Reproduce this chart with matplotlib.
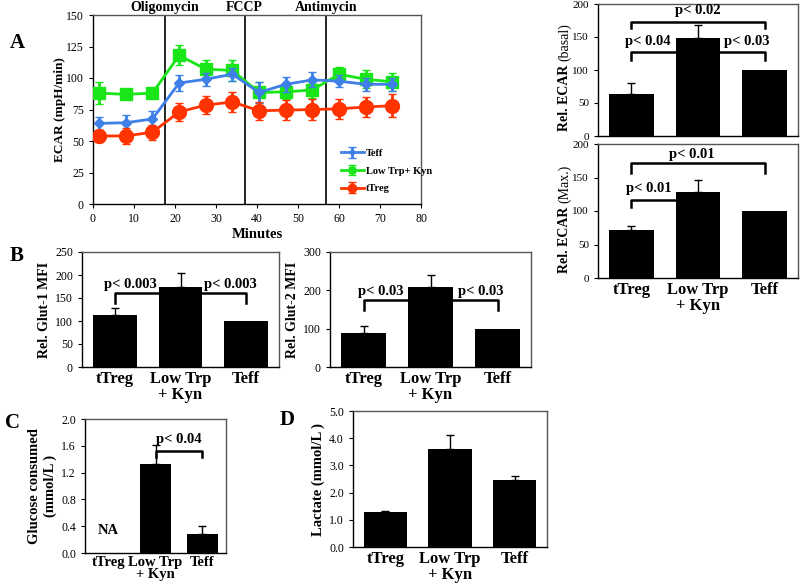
import matplotlib.pyplot as plt
import numpy as np

plt.rcParams['font.family'] = ['Liberation Serif', 'DejaVu Serif']

# ---- data ----
minutes = [1.5, 8, 14.5, 21, 27.5, 34, 40.5, 47, 53.5, 60, 66.5, 73]
teff_ecar = [64, 64.5, 67.5, 96, 99, 103, 88.5, 95, 98.5, 97.5, 95, 95]
teff_err = [5, 6, 6, 6, 5, 5, 8, 6, 6, 5, 5, 5]
lowtrp_ecar = [88, 87, 88, 118, 107, 106, 88.5, 89, 90.5, 103, 99, 97]
lowtrp_err = [8.5, 3, 4, 8, 7, 8, 8, 6, 6, 6, 7, 7]
treg_ecar = [54, 54, 57, 73, 78.5, 81, 74, 74.5, 75, 75.5, 77, 78]
treg_err = [5, 6, 6, 7, 7, 8, 7, 8, 8, 8, 8, 9]
injections = [17.5, 37, 56.8]
injection_names = ['Oligomycin', 'FCCP', 'Antimycin']

groups = ['tTreg', 'Low Trp\n+ Kyn', 'Teff']
basal = [64, 149, 100]
basal_err = [16, 19, 0]
maxecar = [72, 129, 100]
maxecar_err = [5, 17, 0]
glut1 = [113, 174, 100]
glut1_err = [16, 31, 0]
glut2 = [90, 209, 100]
glut2_err = [17, 32, 0]
glucose = [0, 1.33, 0.28]
glucose_err = [0, 0.275, 0.12]
lactate = [1.28, 3.62, 2.48]
lactate_err = [0.05, 0.5, 0.14]

W, H = 800, 586
fig = plt.figure(figsize=(W / 100, H / 100), dpi=100)


def px_axes(l, t, r, b):
    return fig.add_axes([l / W, 1 - b / H, (r - l) / W, (b - t) / H])


def frame(ax, ysize=8.5):
    for s in ax.spines.values():
        s.set_color('#555555')
        s.set_linewidth(1)
    ax.spines['left'].set_color('black')
    ax.spines['bottom'].set_color('black')
    ax.tick_params(labelsize=ysize, length=3, width=0.8)


def bar_panel(ax, vals, errs, ymax, ticks, ylabel, fmt='{:g}', xlabels=True,
              ylsize=10, xlsize=12, ysize=8.5):
    frame(ax, ysize)
    x = np.arange(len(vals))
    ax.bar(x, vals, width=0.67, color='black', zorder=3)
    keep = [i for i in x if errs[i] > 0]
    ax.errorbar([x[i] for i in keep], [vals[i] for i in keep],
                yerr=[[0] * len(keep), [errs[i] for i in keep]], fmt='none',
                ecolor='black', elinewidth=1, capsize=3, zorder=2)
    ax.set_xlim(-0.5, 2.5)
    ax.set_ylim(0, ymax)
    ax.set_yticks(ticks)
    ax.set_yticklabels([fmt.format(t) for t in ticks])
    ax.set_xticks(x)
    ax.tick_params(axis='x', length=0, pad=3)
    if xlabels:
        ax.set_xticklabels(groups, fontweight='bold', fontsize=xlsize, linespacing=0.95)
    else:
        ax.set_xticklabels([])
    if ylabel:
        ax.set_ylabel(ylabel, fontweight='bold', fontsize=ylsize, labelpad=3)


def split_ylabel(ax, bold, normal, xpx, ycenter_frac):
    # bold part followed by a regular-weight part, written upward
    t1 = ax.text(xpx, ycenter_frac, bold, transform=ax.transAxes, rotation=90,
                 ha='center', va='center', fontweight='bold', fontsize=10)
    ax.annotate(normal, xy=(0.5, 1), xycoords=t1, rotation=90, ha='center',
                va='bottom', fontsize=10)


def bracket(ax, x0, x1, y, ydrop, text=None, tx=None, ty=None):
    ax.plot([x0, x0, x1, x1], [ydrop, y, y, ydrop], color='black', lw=1.8, zorder=1)
    if text:
        ax.text(tx, ty, text, ha='center', va='center', fontweight='bold', fontsize=10.5)


# ---- A: ECAR time course ----
ax = px_axes(93, 15, 421, 204)
ax.errorbar(minutes, teff_ecar, yerr=teff_err, color='#3f7fe8', marker='D', ms=5,
            lw=2, capsize=3, label='Teff', zorder=4)
ax.errorbar(minutes, lowtrp_ecar, yerr=lowtrp_err, color='#19e619', marker='s', ms=8,
            lw=2, capsize=3, label='Low Trp+ Kyn', zorder=3)
ax.errorbar(minutes, treg_ecar, yerr=treg_err, color='#ff3300', marker='o', ms=10,
            lw=2, capsize=3, label='tTreg', zorder=5)
for xi, name in zip(injections, injection_names):
    ax.axvline(xi, color='black', lw=1.2)
    ax.text(xi, 1.042, name, transform=ax.get_xaxis_transform(), ha='center',
            va='center', fontweight='bold', fontsize=10)
ax.set_xlim(0, 80)
ax.set_ylim(0, 150)
ax.set_xticks(range(0, 81, 10))
ax.set_yticks(range(0, 151, 25))
frame(ax)
ax.set_xlabel('Minutes', fontweight='bold', fontsize=10.5, labelpad=2)
ax.set_ylabel('ECAR (mpH/min)', fontweight='bold', fontsize=9.5, labelpad=0)
ax.legend(loc='upper left', bbox_to_anchor=(0.74, 0.32), frameon=False,
          prop={'weight': 'bold', 'size': 7.5}, handlelength=2.2, handletextpad=0.2,
          labelspacing=0.8, borderpad=0, markerscale=0.6)
fig.text(17 / W, 1 - 43 / H, 'A', fontsize=15, fontweight='bold', ha='center', va='center')

# ---- A right: relative ECAR ----
ax = px_axes(598, 4, 798, 136)
bar_panel(ax, basal, basal_err, 200, [0, 50, 100, 150, 200], None, xlabels=False, ysize=8)
split_ylabel(ax, 'Rel. ECAR ', '(basal)', -0.165, 0.3)
bracket(ax, 0, 2, 173, 163, 'p< 0.02', 1, 190)
bracket(ax, 0, 1, 128, 115, 'p< 0.04', 0.25, 143)
bracket(ax, 1, 2, 128, 115, 'p< 0.03', 1.73, 143)

ax = px_axes(598, 144, 798, 278)
bar_panel(ax, maxecar, maxecar_err, 200, [0, 50, 100, 150, 200], None, ysize=8)
split_ylabel(ax, 'Rel. ECAR ', '(Max.)', -0.165, 0.3)
bracket(ax, 0, 2, 171, 157, 'p< 0.01', 0.9, 185)
bracket(ax, 0, 1, 117, 106, 'p< 0.01', 0.26, 133)

# ---- B: Glut-1 / Glut-2 ----
ax = px_axes(82, 252, 279, 367)
bar_panel(ax, glut1, glut1_err, 250, [0, 50, 100, 150, 200, 250], 'Rel. Glut-1 MFI')
bracket(ax, 0, 1, 160, 139.5, 'p< 0.003', 0.24, 179)
bracket(ax, 1, 2, 160, 139.5, 'p< 0.003', 1.76, 179)
fig.text(17 / W, 1 - 256 / H, 'B', fontsize=15, fontweight='bold', ha='center', va='center')

ax = px_axes(330, 252, 531, 367)
bar_panel(ax, glut2, glut2_err, 300, [0, 100, 200, 300], 'Rel. Glut-2 MFI')
bracket(ax, 0, 1, 174, 150, 'p< 0.03', 0.25, 198)
bracket(ax, 1, 2, 174, 150, 'p< 0.03', 1.75, 198)

# ---- C: glucose consumed ----
ax = px_axes(85, 419, 226, 553)
bar_panel(ax, glucose, glucose_err, 2.0, [0, 0.4, 0.8, 1.2, 1.6, 2.0],
          'Glucose consumed\n(mmol/L )', fmt='{:.1f}', ylsize=10.5, xlsize=10.5)
ax.tick_params(axis='x', pad=2)
bracket(ax, 1, 2, 1.525, 1.43, 'p< 0.04', 1.5, 1.7)
ax.text(0, 0.34, 'NA', ha='center', va='center', fontweight='bold', fontsize=10.5)
fig.text(13 / W, 1 - 423 / H, 'C', fontsize=15, fontweight='bold', ha='center', va='center')

# ---- D: lactate ----
ax = px_axes(353, 411, 547, 547)
bar_panel(ax, lactate, lactate_err, 5.0, [0, 1, 2, 3, 4, 5],
          'Lactate (mmol/L )', fmt='{:.1f}', ylsize=10.5)
fig.text(287 / W, 1 - 420 / H, 'D', fontsize=15, fontweight='bold', ha='center', va='center')

fig.savefig('out.png', dpi=100)
